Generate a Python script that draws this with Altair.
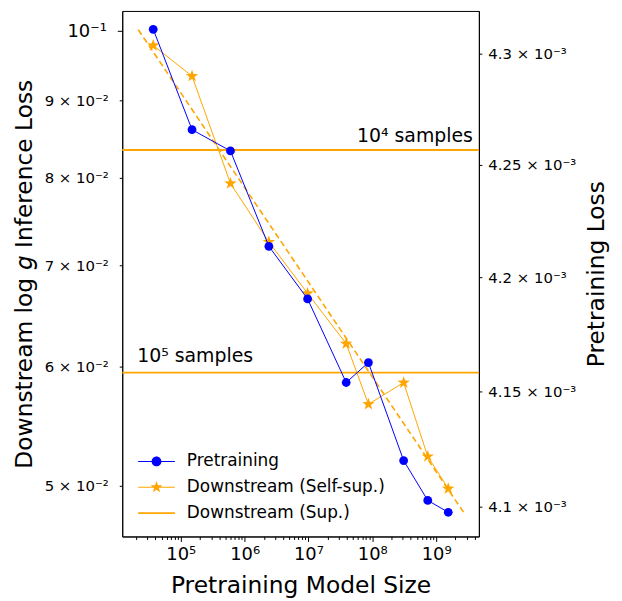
import math
import altair as alt
import pandas as pd

# ---------------- data ----------------
model_size = [3.7e4, 1.5e5, 6.0e5, 2.4e6, 9.7e6, 3.9e7, 8.7e7, 3.1e8, 7.4e8, 1.55e9]
pretraining_loss = [4.3108e-3, 4.2656e-3, 4.2561e-3, 4.2137e-3, 4.1905e-3,
                    4.1539e-3, 4.1626e-3, 4.1200e-3, 4.1028e-3, 4.0977e-3]
downstream_selfsup = [0.09784, 0.09337, 0.07929, 0.07251, 0.06706,
                      0.06211, 0.05664, 0.05853, 0.05230, 0.04980]
fit_size = [2.16e4, 2.7e9]
fit_loss = [0.1002, 0.04803]
sup_loss = [0.08343, 0.05943]
sup_label = ["10⁴ samples", "10⁵ samples"]
sup_label_size = [3.77e9, 2.07e4]
sup_label_loss = [0.08444, 0.06044]
sup_label_align = ["right", "left"]
series = ["Pretraining", "Downstream (Self-sup.)", "Downstream (Sup.)"]
series_colors = ["blue", "orange", "orange"]

x_domain = [1.21e4, 4.68e9]
left_domain = [0.04630, 0.10312]
right_domain = [4.0873e-3, 4.3191e-3]

x_major = [1e5, 1e6, 1e7, 1e8, 1e9]
x_major_labels = ["10⁵", "10⁶", "10⁷", "10⁸", "10⁹"]
x_minor = [k * 10 ** d for d in range(4, 10) for k in range(2, 10)
           if x_domain[0] < k * 10 ** d < x_domain[1]]
left_ticks = [0.05, 0.06, 0.07, 0.08, 0.09, 0.1]
left_tick_labels = ["5 × 10⁻²", "6 × 10⁻²", "7 × 10⁻²", "8 × 10⁻²", "9 × 10⁻²", "10⁻¹"]
right_ticks = [4.1e-3, 4.15e-3, 4.2e-3, 4.25e-3, 4.3e-3]
right_tick_labels = ["4.1 × 10⁻³", "4.15 × 10⁻³", "4.2 × 10⁻³", "4.25 × 10⁻³", "4.3 × 10⁻³"]

FONT = "DejaVu Sans"


def label_expr(vals, labels):
    expr = "''"
    for v, lab in reversed(list(zip(vals, labels))):
        expr = f"abs(datum.value / {v!r} - 1) < 1e-6 ? '{lab}' : ({expr})"
    return expr


def star_pts(R, r):
    pts = []
    for i in range(10):
        a = -math.pi / 2 + i * math.pi / 5
        rad = R if i % 2 == 0 else r
        pts.append((rad * math.cos(a), rad * math.sin(a)))
    return "M" + "L".join(f"{x:.3f},{y:.3f}" for x, y in pts) + "Z"


def bar(x0, x1, h):
    return f"M{x0},{-h}L{x1},{-h}L{x1},{h}L{x0},{h}Z"


STAR = star_pts(1.0, 0.4)
L = 3.08
leg_circle = (bar(-L, -0.7, 0.085) + bar(0.7, L, 0.085)
              + "M0.82,0A0.82,0.82,0,1,1,-0.82,0A0.82,0.82,0,1,1,0.82,0Z")
leg_star = bar(-L, -0.4, 0.085) + bar(0.4, L, 0.085) + star_pts(1.05, 0.42)
leg_rule = bar(-L, L, 0.16)

df_self = pd.DataFrame({"size": model_size, "loss": downstream_selfsup})
df_pre = pd.DataFrame({"size": model_size, "ploss": pretraining_loss})
df_fit = pd.DataFrame({"size": fit_size, "loss": fit_loss})
df_sup = pd.DataFrame({"loss": sup_loss})
df_txt = pd.DataFrame({"size": sup_label_size, "loss": sup_label_loss,
                       "label": sup_label, "align": sup_label_align})
df_series = pd.DataFrame({"series": series})

x_major_test = "abs(log(datum.value)/LN10 - round(log(datum.value)/LN10)) < 1e-6"
common_axis = dict(
    grid=False, domainColor="black", domainWidth=1, tickColor="black", tickWidth=1,
    labelColor="black", titleColor="black", labelFont=FONT, titleFont=FONT,
    titleFontWeight="normal", labelOverlap=False, labelFlush=False,
)

x_enc = alt.X(
    "size:Q",
    scale=alt.Scale(type="log", domain=x_domain, nice=False),
    axis=alt.Axis(
        values=sorted(x_major + x_minor),
        labelExpr=label_expr(x_major, x_major_labels),
        tickSize={"condition": {"test": x_major_test, "value": 5}, "value": 3},
        labelFontSize=18, labelPadding=4,
        titleFontSize=23.5, titlePadding=10,
        **common_axis,
    ),
    title="Pretraining Model Size",
)

yl_enc = alt.Y(
    "loss:Q",
    scale=alt.Scale(type="log", domain=left_domain, nice=False),
    axis=alt.Axis(
        orient="left",
        values=left_ticks,
        labelExpr=label_expr(left_ticks, left_tick_labels),
        tickSize={"condition": {"test": "abs(datum.value/0.1 - 1) < 1e-6", "value": 5}, "value": 3},
        labelFontSize={"condition": {"test": "abs(datum.value/0.1 - 1) < 1e-6", "value": 18}, "value": 15},
        labelPadding=11,
        titleFontSize=23.5, titlePadding=8,
        **common_axis,
    ),
    title="Downstream log 𝘨 Inference Loss",
)

yr_enc = alt.Y(
    "ploss:Q",
    scale=alt.Scale(type="log", domain=right_domain, nice=False),
    axis=alt.Axis(
        orient="right",
        values=right_ticks,
        labelExpr=label_expr(right_ticks, right_tick_labels),
        tickSize=3, labelFontSize=15, labelPadding=6,
        titleFontSize=23.5, titlePadding=33, titleAngle=270,
        **common_axis,
    ),
    title="Pretraining Loss",
)

leg = alt.Legend(
    title=None, orient="none", legendX=26, legendY=445,
    labelFont=FONT, labelFontSize=17, labelColor="black", labelLimit=0,
    symbolSize=144, symbolStrokeWidth=0, symbolOpacity=1, labelOffset=22,
    rowPadding=8, padding=0,
)

self_line = alt.Chart(df_self).mark_line(color="orange", strokeWidth=1).encode(x=x_enc, y=yl_enc)
self_pts = alt.Chart(df_self).mark_point(
    shape=STAR, filled=True, size=170, color="orange", opacity=1
).encode(x=x_enc, y=yl_enc)
fit_line = alt.Chart(df_fit).mark_line(
    color="orange", strokeWidth=1.6, strokeDash=[6, 3.5]
).encode(x=x_enc, y=yl_enc)
sup_rules = alt.Chart(df_sup).mark_rule(color="orange", strokeWidth=2).encode(y=yl_enc)

txt_layers = []
for i, al in enumerate(sup_label_align):
    txt_layers.append(
        alt.Chart(df_txt.iloc[[i]]).mark_text(
            align=al, baseline="alphabetic", font=FONT, fontSize=19, color="black"
        ).encode(x=x_enc, y=yl_enc, text="label:N")
    )

legend_layer = alt.Chart(df_series).transform_filter("false").mark_point(filled=True, opacity=1).encode(
    fill=alt.Fill("series:N", scale=alt.Scale(domain=series, range=series_colors), legend=leg),
    shape=alt.Shape("series:N", scale=alt.Scale(domain=series, range=[leg_circle, leg_star, leg_rule]), legend=leg),
)

left_group = alt.layer(sup_rules, fit_line, self_line, self_pts, *txt_layers, legend_layer)

pre_line = alt.Chart(df_pre).mark_line(color="blue", strokeWidth=1).encode(x=x_enc, y=yr_enc)
pre_pts = alt.Chart(df_pre).mark_point(
    shape="circle", filled=True, size=78, color="blue", opacity=1
).encode(x=x_enc, y=yr_enc)
right_group = alt.layer(pre_line, pre_pts)

chart = (
    alt.layer(left_group, right_group)
    .resolve_scale(y="independent")
    .properties(width=359, height=529, background="white",
                padding={"top": 1, "left": 4, "right": 5, "bottom": 5})
    .configure_view(stroke="black", strokeWidth=1)
)

chart.save("out.html", embed_options={"renderer": "svg", "actions": False})
